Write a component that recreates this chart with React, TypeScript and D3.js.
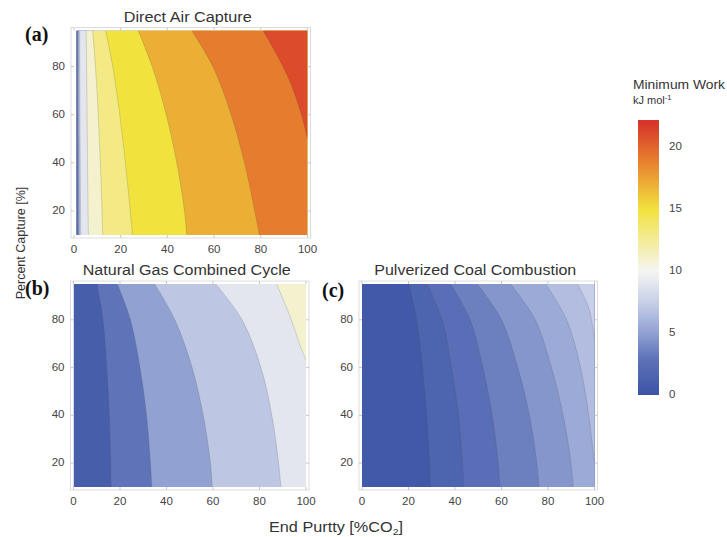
import React from 'react';
import * as d3 from 'd3';

const W = 727;
const H = 537;

const purityTicks = [0, 20, 40, 60, 80, 100];
const captureTicks = [20, 40, 60, 80];
const barTicks = [0, 5, 10, 15, 20];

// colour map of the minimum work (kJ/mol)
const colorStops = [0, 3, 5, 7.5, 10, 15, 18.5, 22];
const colorHex = ['#3b54a4', '#5f73b9', '#91a1d2', '#c8d0e9', '#f5f5f2', '#f2e23e', '#e8892f', '#d7342a'];

// contour levels and boundary lines, each point is [end purity %, capture %]
const dacLevels = [2, 4, 6, 8, 10, 12, 14, 16, 18, 20];
const dacLines = [
  [[1.1, 95], [1.2, 50], [1.3, 10]],
  [[1.5, 95], [1.6, 50], [1.8, 10]],
  [[1.9, 95], [2.1, 50], [2.3, 10]],
  [[2.4, 95], [2.6, 50], [2.9, 10]],
  [[5.2, 95], [5.4, 80], [5.6, 60], [5.8, 40], [6.0, 20], [6.2, 10]],
  [[8.0, 95], [9.2, 80], [10.4, 60], [11.3, 40], [12.0, 20], [12.3, 10]],
  [[13.5, 95], [16.6, 80], [19.6, 60], [22.0, 40], [24.1, 20], [25.0, 10]],
  [[27.5, 95], [33.5, 80], [39.5, 60], [44.0, 40], [47.3, 20], [48.3, 10]],
  [[50.4, 95], [59.5, 80], [67.3, 60], [73.0, 40], [77.4, 20], [79.4, 10]],
  [[81.0, 95], [89.5, 80], [94.0, 70], [97.4, 60], [100, 50]],
];

const ngccLevels = [2, 4, 6, 8, 10];
const ngccLines = [
  [[10.1, 95], [12.7, 80], [14.3, 60], [15.4, 40], [16.0, 20], [16.2, 10]],
  [[18.9, 95], [24.5, 80], [28.6, 60], [31.4, 40], [33.1, 20], [33.7, 10]],
  [[34.9, 95], [43.6, 80], [51.0, 60], [55.8, 40], [58.9, 20], [59.7, 10]],
  [[61.1, 95], [72.5, 80], [80.6, 60], [85.3, 40], [88.2, 20], [89.2, 10]],
  [[87.4, 95], [93.7, 80], [97.2, 70], [100, 63]],
];

const pccLevels = [1, 2, 3, 4, 5, 6, 7];
const pccLines = [
  [[20.1, 95], [23.5, 80], [26.0, 60], [27.8, 40], [29.0, 20], [29.4, 10]],
  [[28.0, 95], [34.5, 80], [38.5, 60], [41.5, 40], [43.2, 20], [43.8, 10]],
  [[38.1, 95], [46.5, 80], [52.0, 60], [56.0, 40], [58.6, 20], [59.3, 10]],
  [[49.6, 95], [60.0, 80], [67.0, 60], [72.0, 40], [75.2, 20], [76.1, 10]],
  [[63.9, 95], [74.5, 80], [81.5, 60], [86.5, 40], [89.9, 20], [90.8, 10]],
  [[79.0, 95], [88.0, 80], [94.0, 60], [97.5, 40], [100, 20]],
  [[92.7, 95], [97.5, 85], [100, 72]],
];

const color = d3.scaleLinear<string>().domain(colorStops).range(colorHex).interpolate(d3.interpolateRgb).clamp(true);

const FONT = 'Liberation Sans, Arial, sans-serif';
const TXT = '#444';

type Pt = number[];

function Panel({ id, box, title, titleW, tag, levels, lines, step, xStart }) {
  const x = d3.scaleLinear().domain([0, 100]).range([box.left, box.right]);
  const y = d3.scaleLinear().domain([10, 95]).range([box.bottom, box.top]);
  const curve = d3.curveCatmullRom.alpha(0.5);
  const area = d3.area<Pt>().curve(curve).y(d => y(d[1])).x0(d => x(d[0])).x1(x(100));
  const line = d3.line<Pt>().curve(curve).x(d => x(d[0])).y(d => y(d[1]));
  const fx = box.left - 3, fy = box.top - 3;
  const fw = box.right - box.left + 6, fh = box.bottom - box.top + 6;

  return (
    <g>
      <clipPath id={id}>
        <rect x={x(xStart)} y={y(95)} width={x(100) - x(xStart)} height={y(10) - y(95)} />
      </clipPath>
      <rect x={fx} y={fy} width={fw} height={fh} fill="#fff" stroke="#d4d4d4" strokeWidth={0.8} />
      <g clipPath={`url(#${id})`}>
        <rect x={x(0)} y={y(95)} width={x(100) - x(0)} height={y(10) - y(95)} fill={color(step / 2)} />
        {lines.map((l, i) => (
          <path key={'a' + i} d={area(l) || ''} fill={color(levels[i] + step / 2)} />
        ))}
        {lines.map((l, i) => (
          <path key={'l' + i} d={line(l) || ''} fill="none" stroke="#505050" strokeOpacity={0.28} strokeWidth={0.7} />
        ))}
      </g>
      {purityTicks.map(t => (
        <g key={'xt' + t}>
          <line x1={x(t)} x2={x(t)} y1={fy + fh} y2={fy + fh - 3} stroke="#c8c8c8" />
          <line x1={x(t)} x2={x(t)} y1={fy} y2={fy + 3} stroke="#c8c8c8" />
          <text x={x(t)} y={box.bottom + 15} textAnchor="middle" dominantBaseline="middle"
            fontFamily={FONT} fontSize={11.5} fill={TXT}>{t}</text>
        </g>
      ))}
      {captureTicks.map(t => (
        <g key={'yt' + t}>
          <line x1={fx} x2={fx + 3} y1={y(t)} y2={y(t)} stroke="#c8c8c8" />
          <line x1={fx + fw} x2={fx + fw - 3} y1={y(t)} y2={y(t)} stroke="#c8c8c8" />
          <text x={box.left - 9} y={y(t)} textAnchor="end" dominantBaseline="middle"
            fontFamily={FONT} fontSize={11.5} fill={TXT}>{t}</text>
        </g>
      ))}
      <text x={(box.left + box.right) / 2 - 3} y={box.top - 9} textAnchor="middle"
        fontFamily={FONT} fontSize={14} fill="#333" textLength={titleW} lengthAdjust="spacingAndGlyphs">{title}</text>
      <text x={tag.x} y={tag.y} fontFamily="Liberation Serif, Times New Roman, serif" fontWeight="bold"
        fontSize={20} fill="#111">{tag.text}</text>
    </g>
  );
}

function ColorBar() {
  const bar = d3.scaleLinear().domain([0, 22.2]).range([395, 120]);
  const stops = d3.range(0, 22.3, 0.5);
  return (
    <g>
      <defs>
        <linearGradient id="cbar" x1="0" y1="1" x2="0" y2="0">
          {stops.map(v => (
            <stop key={v} offset={v / 22.2} stopColor={color(v)} />
          ))}
        </linearGradient>
      </defs>
      <rect x={638} y={bar(22.2)} width={21} height={bar(0) - bar(22.2)} fill="url(#cbar)" />
      {barTicks.map(t => (
        <text key={t} x={669} y={bar(t)} dominantBaseline="middle" fontFamily={FONT}
          fontSize={11.5} fill={TXT}>{t}</text>
      ))}
      <text x={633} y={89} fontFamily={FONT} fontSize={12.5} fill="#333" textLength={92}
        lengthAdjust="spacingAndGlyphs">Minimum Work</text>
      <text x={633} y={104} fontFamily={FONT} fontSize={11} fill="#333">
        kJ mol<tspan dy={-4} fontSize={7.5}>-1</tspan>
      </text>
    </g>
  );
}

export default function App() {
  return (
    <svg width={W} height={H} style={{ display: 'block', position: 'absolute', left: 0, top: 0, background: '#fff' }}>
      <rect width={W} height={H} fill="#fff" />
      <Panel id="clipA" box={{ left: 74, right: 307.5, top: 30.5, bottom: 235 }}
        title="Direct Air Capture" titleW={128} tag={{ x: 25, y: 41, text: '(a)' }}
        levels={dacLevels} lines={dacLines} step={2} xStart={1} />
      <Panel id="clipB" box={{ left: 73.5, right: 306, top: 284, bottom: 487 }}
        title="Natural Gas Combined Cycle" titleW={208} tag={{ x: 25, y: 295, text: '(b)' }}
        levels={ngccLevels} lines={ngccLines} step={2} xStart={0} />
      <Panel id="clipC" box={{ left: 362, right: 594.5, top: 284, bottom: 487 }}
        title="Pulverized Coal Combustion" titleW={202} tag={{ x: 322, y: 297, text: '(c)' }}
        levels={pccLevels} lines={pccLines} step={1} xStart={0} />
      <ColorBar />
      <text transform="translate(25,243) rotate(-90)" textAnchor="middle" fontFamily={FONT}
        fontSize={12.5} fill="#333">Percent Capture [%]</text>
      <text x={336} y={532} textAnchor="middle" fontFamily={FONT} fontSize={14} fill="#333"
        textLength={134} lengthAdjust="spacingAndGlyphs">
        End Purtty [%CO<tspan dy={2.5} fontSize={9}>2</tspan><tspan dy={-2.5}>]</tspan>
      </text>
    </svg>
  );
}
